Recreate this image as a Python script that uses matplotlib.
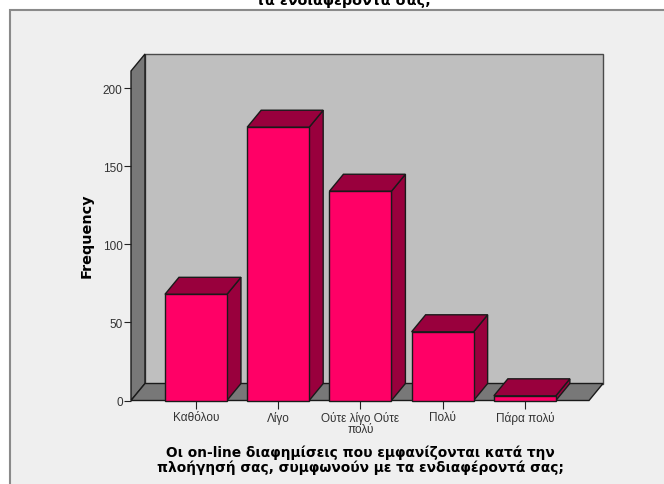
import matplotlib
matplotlib.use("Agg")
import matplotlib.pyplot as plt
from matplotlib.patches import Polygon, Rectangle

plt.rcParams['font.family'] = ['Liberation Sans', 'DejaVu Sans']

categories = ['Καθόλου', 'Λίγο', 'Ούτε λίγο Ούτε\nπολύ', 'Πολύ', 'Πάρα πολύ']
frequency = [68, 175, 134, 44, 3]
y_ticks = [0, 50, 100, 150, 200]

W, H = 664, 485
# front plane of the 3D box, in pixels
left, right, top, bottom = 131, 589, 72, 401.5
y_max = 211
x_min, x_max = -0.79, 4.78
bar_w = 0.754
# depth of the box in data units
dx = 14 / ((right - left) / (x_max - x_min))
dy = 17 / ((bottom - top) / y_max)

PINK = '#FF0066'
DARK = '#99003D'
EDGE = '#1a1a1a'

fig = plt.figure(figsize=(W / 100, H / 100), dpi=100, facecolor='white')

# outer chart frame, runs off the right and bottom edges
fig.add_artist(Rectangle((9.5 / W, -0.1), 1, (H - 10.5) / H + 0.1, transform=fig.transFigure,
                         facecolor='#EFEFEF', edgecolor='#8a8a8a', linewidth=1.5, zorder=-1))

ax = fig.add_axes([left / W, 1 - bottom / H, (right - left) / W, (bottom - top) / H])
ax.set_xlim(x_min, x_max)
ax.set_ylim(0, y_max)
ax.patch.set_visible(False)
for s in ax.spines.values():
    s.set_visible(False)


def poly(pts, color, lw=1.0, z=2, ec=EDGE):
    ax.add_patch(Polygon(pts, closed=True, facecolor=color, edgecolor=ec, linewidth=lw,
                         zorder=z, clip_on=False, joinstyle='miter'))


# walls and floor
poly([(x_min + dx, dy), (x_max + dx, dy), (x_max + dx, y_max + dy), (x_min + dx, y_max + dy)],
     '#BFBFBF', z=1, ec='#4a4a4a')
poly([(x_min, 0), (x_min + dx, dy), (x_min + dx, y_max + dy), (x_min, y_max)], '#787878', z=1.1)
poly([(x_min, 0), (x_max, 0), (x_max + dx, dy), (x_min + dx, dy)], '#787878', z=1.1)

# bars with top and side faces
for i, v in enumerate(frequency):
    x0, x1 = i - bar_w / 2, i + bar_w / 2
    z = 2 + i * 0.1
    poly([(x1, 0), (x1 + dx, dy), (x1 + dx, v + dy), (x1, v)], DARK, z=z)
    poly([(x0, v), (x1, v), (x1 + dx, v + dy), (x0 + dx, v + dy)], DARK, z=z)
    ax.bar(i, v, width=bar_w, color=PINK, edgecolor=EDGE, linewidth=1.0, zorder=z + 0.05, clip_on=False)

ax.set_xticks(range(len(categories)))
ax.set_xticklabels(categories, fontsize=8.5, linespacing=0.9, color='#333333')
ax.set_yticks(y_ticks)
ax.tick_params(axis='x', length=5.5, width=0.8, color='#222222', pad=2)
ax.tick_params(axis='y', length=5, width=0.8, color='#222222', pad=1, labelsize=8.5, labelcolor='#333333')

fig.text(87 / W, 1 - 236 / H, 'Frequency', rotation=90, ha='center', va='center',
         fontsize=10.4, fontweight='bold', family='DejaVu Sans')
fig.text(360 / W, 1 - 460.5 / H,
         'Οι on-line διαφημίσεις που εμφανίζονται κατά την\nπλοήγησή σας, συμφωνούν με τα ενδιαφέροντά σας;',
         ha='center', va='center', fontsize=9.9, fontweight='bold', linespacing=1.05, family='DejaVu Sans')
# last line of the title, cut by the top edge
fig.text(343 / W, 1 - 4.5 / H, 'τα ενδιαφέροντά σας;', ha='center', va='baseline',
         fontsize=10.3, fontweight='bold', family='DejaVu Sans')

fig.savefig('out.png', dpi=100)
